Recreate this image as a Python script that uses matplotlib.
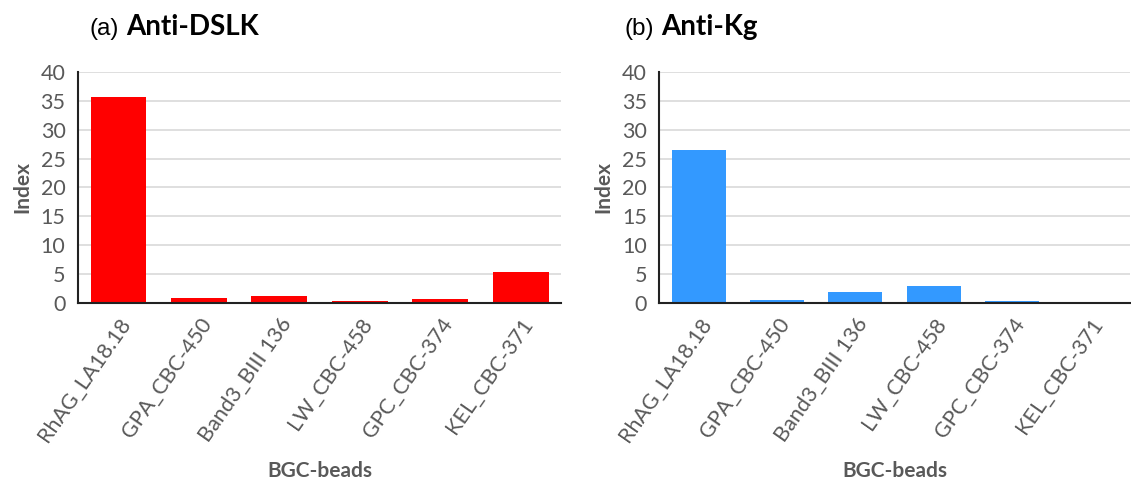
import matplotlib.pyplot as plt

# bead panel and index values per antibody
beads = ['RhAG_LA18.18', 'GPA_CBC-450', 'Band3_BIII 136', 'LW_CBC-458', 'GPC_CBC-374', 'KEL_CBC-371']
dslk_index = [35.7, 0.9, 1.2, 0.4, 0.6, 5.3]
kg_index = [26.4, 0.5, 1.9, 2.9, 0.35, 0.0]

panels = [
	('(a)', 'Anti-DSLK', dslk_index, '#ff0000'),
	('(b)', 'Anti-Kg', kg_index, '#3399ff'),
]

GREY = '#595959'
plt.rcParams['font.family'] = ['Lato', 'DejaVu Sans']

fig = plt.figure(figsize=(11.31, 4.83), dpi=100)
boxes = [[0.069, 0.373, 0.427, 0.478], [0.583, 0.373, 0.416, 0.478]]
title_x = [0.079, 0.552]


def draw_panel(ax, values, color):
	x = range(len(beads))
	ax.bar(x, values, width=0.69, color=color, zorder=3)
	ax.set_xlim(-0.5, len(beads) - 0.5)
	ax.set_ylim(0, 40)
	ax.set_yticks(range(0, 41, 5))
	ax.set_xticks(list(x))
	ax.set_xticklabels(beads, rotation=55, ha='right', rotation_mode='anchor')
	ax.tick_params(axis='both', length=0, labelsize=15.5, labelcolor=GREY)
	ax.tick_params(axis='y', pad=9)
	ax.tick_params(axis='x', pad=8)
	ax.grid(axis='y', color='#d9d9d9', linewidth=1.2, zorder=0)
	for side in ['top', 'right']:
		ax.spines[side].set_visible(False)
	for side in ['left', 'bottom']:
		ax.spines[side].set_color('#222222')
		ax.spines[side].set_linewidth(1.5)
		ax.spines[side].set_zorder(4)
	ax.set_ylabel('Index', fontsize=15, fontweight='bold', color=GREY, labelpad=6)
	ax.set_xlabel('BGC-beads', fontsize=15, fontweight='bold', color=GREY, labelpad=11)


for box, tx, (tag, name, values, color) in zip(boxes, title_x, panels):
	ax = fig.add_axes(box)
	draw_panel(ax, values, color)
	t = fig.text(tx, 0.928, tag, fontsize=17.5, family='Liberation Sans', va='baseline')
	fig.canvas.draw()
	ax.annotate(name, xy=(1, 0), xycoords=t, xytext=(5, 0), textcoords='offset points',
		fontsize=20, fontweight='bold', va='bottom', annotation_clip=False)

fig.savefig('out.png', dpi=100)
